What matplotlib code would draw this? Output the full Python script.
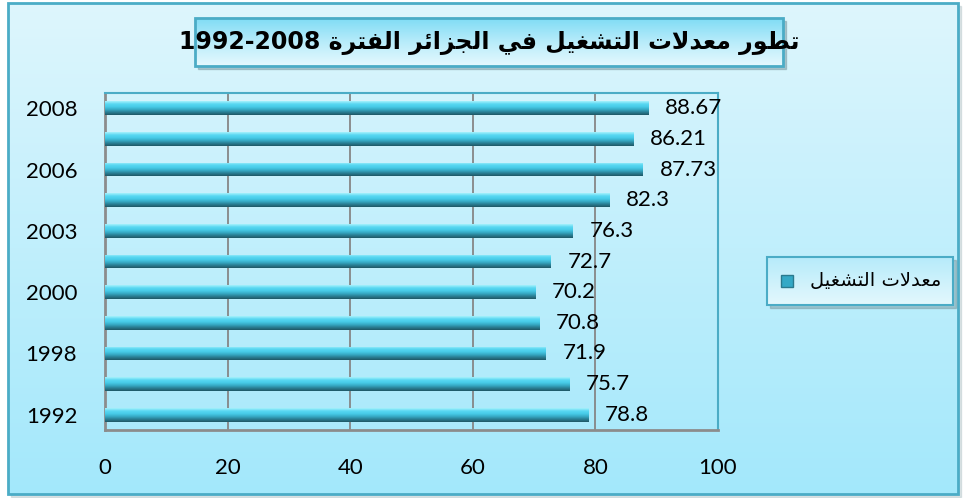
import numpy as np
import matplotlib.pyplot as plt
from matplotlib.patches import Rectangle
from matplotlib.colors import LinearSegmentedColormap

# data (bottom to top)
years = ['1992', '1997', '1998', '1999', '2000', '2001', '2003', '2005', '2006', '2007', '2008']
rates = [78.8, 75.7, 71.9, 70.8, 70.2, 72.7, 76.3, 82.3, 87.73, 86.21, 88.67]
rate_labels = ['78.8', '75.7', '71.9', '70.8', '70.2', '72.7', '76.3', '82.3', '87.73', '86.21', '88.67']
shown_years = ['1992', '1998', '2000', '2003', '2006', '2008']
xticks = [0, 20, 40, 60, 80, 100]
title = 'تطور معدلات التشغيل في الجزائر الفترة 1992-2008'
series_name = 'معدلات التشغيل'

# matplotlib has no arabic shaping, so pick the contextual forms by hand
forms = {
    'ا': ('\uFE8D', '\uFE8E', None, None),
    'ت': ('\uFE95', '\uFE96', '\uFE97', '\uFE98'),
    'ط': ('\uFEC1', '\uFEC2', '\uFEC3', '\uFEC4'),
    'و': ('\uFEED', '\uFEEE', None, None),
    'ر': ('\uFEAD', '\uFEAE', None, None),
    'م': ('\uFEE1', '\uFEE2', '\uFEE3', '\uFEE4'),
    'ع': ('\uFEC9', '\uFECA', '\uFECB', '\uFECC'),
    'د': ('\uFEA9', '\uFEAA', None, None),
    'ل': ('\uFEDD', '\uFEDE', '\uFEDF', '\uFEE0'),
    'ش': ('\uFEB5', '\uFEB6', '\uFEB7', '\uFEB8'),
    'غ': ('\uFECD', '\uFECE', '\uFECF', '\uFED0'),
    'ي': ('\uFEF1', '\uFEF2', '\uFEF3', '\uFEF4'),
    'ف': ('\uFED1', '\uFED2', '\uFED3', '\uFED4'),
    'ج': ('\uFE9D', '\uFE9E', '\uFE9F', '\uFEA0'),
    'ز': ('\uFEAF', '\uFEB0', None, None),
    'ئ': ('\uFE89', '\uFE8A', '\uFE8B', '\uFE8C'),
    'ة': ('\uFE93', '\uFE94', None, None),
}


def shape_word(word):
    out = []
    i = 0
    while i < len(word):
        ch = word[i]
        if ch not in forms:
            out.append(ch)
            i += 1
            continue
        prev = word[i - 1] if i > 0 else None
        joins_prev = prev in forms and forms[prev][2] is not None
        if ch == 'ل' and i + 1 < len(word) and word[i + 1] == 'ا':
            out.append('\uFEFC' if joins_prev else '\uFEFB')
            i += 2
            continue
        nxt = word[i + 1] if i + 1 < len(word) else None
        joins_next = forms[ch][2] is not None and nxt in forms
        iso, fin, ini, med = forms[ch]
        if joins_prev and joins_next:
            out.append(med)
        elif joins_prev:
            out.append(fin)
        elif joins_next:
            out.append(ini)
        else:
            out.append(iso)
        i += 1
    return ''.join(reversed(out))


def rtl(text):
    words = []
    for w in text.split(' '):
        if any(c in forms for c in w):
            words.append(shape_word(w))
        else:
            words.append(w)
    return ' '.join(reversed(words))


fig = plt.figure(figsize=(9.66, 4.98), dpi=100)
fig.patch.set_facecolor('white')

# chart area background with gradient
bg = fig.add_axes([0, 0, 1, 1], zorder=0)
bg.set_xlim(0, 966)
bg.set_ylim(498, 0)
bg.axis('off')
grad_bg = LinearSegmentedColormap.from_list('bg', ['#a3e8fb', '#def6fd'])
bg.add_patch(Rectangle((11, 6), 950, 491, color='#b9c9cc', alpha=0.5, zorder=1))
bg.imshow(np.linspace(1, 0, 256).reshape(-1, 1), cmap=grad_bg, aspect='auto',
          extent=(8, 958, 494, 3), zorder=2)
bg.add_patch(Rectangle((8, 3), 950, 491, fill=False, edgecolor='#4bacc6', lw=2, zorder=3))

# title box
grad_title = LinearSegmentedColormap.from_list('tt', ['#7fdcf5', '#b8ecfa', '#e6f9fe'])
bg.add_patch(Rectangle((198, 21), 588, 48, color='#7a9aa2', alpha=0.5, zorder=3))
bg.imshow(np.linspace(0, 1, 256).reshape(-1, 1), cmap=grad_title, aspect='auto',
          extent=(195, 783, 66, 18), zorder=4)
bg.add_patch(Rectangle((195, 18), 588, 48, fill=False, edgecolor='#4bacc6', lw=2, zorder=5))
bg.text(489, 43, rtl(title), ha='center', va='center', fontsize=17,
        fontweight='bold', family=['DejaVu Sans'], zorder=6)

# legend box
grad_leg = LinearSegmentedColormap.from_list('lg', ['#b6ebfa', '#e4f8fd'])
bg.add_patch(Rectangle((770, 260), 186, 48, color='#7a9aa2', alpha=0.5, zorder=3))
bg.imshow(np.linspace(0, 1, 256).reshape(-1, 1), cmap=grad_leg, aspect='auto',
          extent=(767, 953, 305, 257), zorder=4)
bg.add_patch(Rectangle((767, 257), 186, 48, fill=False, edgecolor='#4bacc6', lw=1.5, zorder=5))
bg.add_patch(Rectangle((781, 275), 12, 12, facecolor='#34a9c6', edgecolor='#2a7a8e', lw=1, zorder=6))
bg.text(876, 280, rtl(series_name), ha='center', va='center', fontsize=14,
        family=['DejaVu Sans'], zorder=6)

# plot area
ax = fig.add_axes([105 / 966, 68 / 498, 613 / 966, 337 / 498], zorder=1)
ax.patch.set_alpha(0)

y = np.arange(len(years))
bar_h = 0.45
bars = ax.barh(y, rates, height=bar_h, color='#3bb5d0', zorder=3)

bar_cmap = LinearSegmentedColormap.from_list(
    'bar', ['#1f5866', '#2a7f94', '#37abc6', '#47cbe8', '#5ad8f2', '#a6f1fc'])
for b, v, yy in zip(bars, rates, y):
    im = ax.imshow(np.linspace(0, 1, 64).reshape(-1, 1), cmap=bar_cmap, aspect='auto',
                   origin='lower', extent=(0, v, yy - bar_h / 2, yy + bar_h / 2), zorder=4)
    im.set_clip_path(b)

for v, yy, lbl in zip(rates, y, rate_labels):
    ax.annotate(lbl, (v, yy), xytext=(12, 0), textcoords='offset points',
                va='center', ha='left', fontsize=16, family='Lato', zorder=6)

ax.set_xlim(0, 100)
ax.set_ylim(-0.5, len(years) - 0.5)
ax.set_xticks(xticks)
ax.set_xticklabels([str(t) for t in xticks], fontsize=16, family='Lato')
ax.set_yticks(y)
ax.set_yticklabels([yr if yr in shown_years else '' for yr in years], fontsize=16, family='Lato')
ax.tick_params(axis='x', length=0, pad=20)
ax.tick_params(axis='y', length=0, pad=20)

for t in xticks[1:-1]:
    ax.axvline(t, color='#868686', lw=1.3, zorder=2)

ax.spines['left'].set_color('#8c8c8c')
ax.spines['left'].set_linewidth(2)
ax.spines['bottom'].set_color('#8c8c8c')
ax.spines['bottom'].set_linewidth(2)
ax.spines['top'].set_color('#4bacc6')
ax.spines['top'].set_linewidth(1.5)
ax.spines['right'].set_color('#4bacc6')
ax.spines['right'].set_linewidth(1.5)

fig.savefig('out.png', dpi=100)
